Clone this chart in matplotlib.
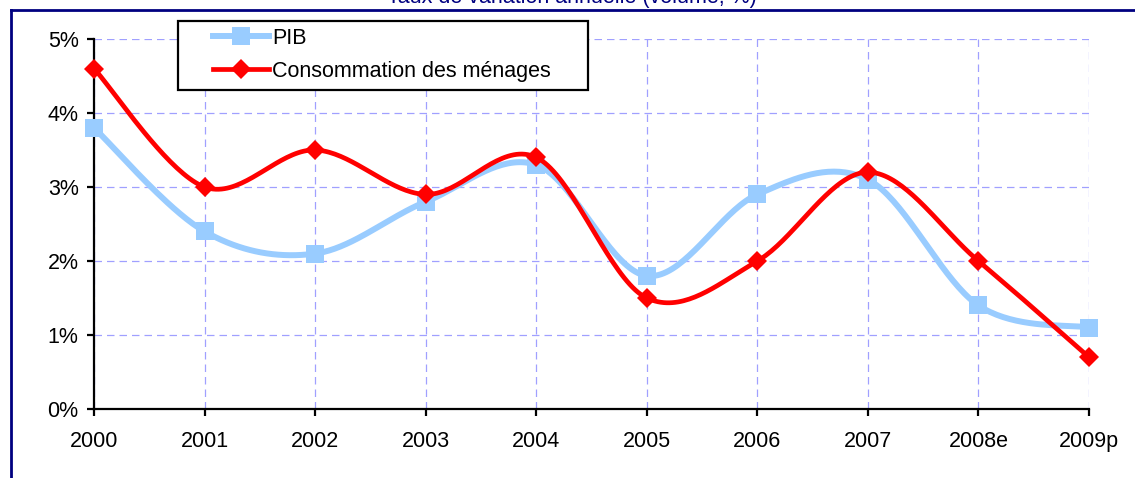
import numpy as np
import matplotlib
matplotlib.use("Agg")
import matplotlib.pyplot as plt
from matplotlib.patches import Rectangle
from matplotlib.lines import Line2D
from matplotlib.ticker import FuncFormatter

years = ["2000", "2001", "2002", "2003", "2004", "2005", "2006", "2007", "2008e", "2009p"]
pib = [3.8, 2.4, 2.1, 2.8, 3.3, 1.8, 2.9, 3.1, 1.4, 1.1]
conso = [4.6, 3.0, 3.5, 2.9, 3.4, 1.5, 2.0, 3.2, 2.0, 0.7]
title = "Taux de variation annuelle (volume, %)"

plt.rcParams['font.family'] = ['Liberation Sans', 'DejaVu Sans']


def smooth(x, y, n=40):
    # Excel-like smoothed line (cubic Bezier with Catmull-Rom control points)
    x = np.asarray(x, float)
    y = np.asarray(y, float)
    P = np.column_stack([x, y])
    out = []
    for i in range(len(P) - 1):
        p0 = P[i - 1] if i > 0 else P[i]
        p1 = P[i]
        p2 = P[i + 1]
        p3 = P[i + 2] if i + 2 < len(P) else P[i + 1]
        c1 = p1 + (p2 - p0) / 6.0
        c2 = p2 - (p3 - p1) / 6.0
        t = np.linspace(0, 1, n)[:, None]
        seg = ((1 - t) ** 3) * p1 + 3 * ((1 - t) ** 2) * t * c1 + 3 * (1 - t) * t ** 2 * c2 + t ** 3 * p2
        out.append(seg if i == 0 else seg[1:])
    S = np.vstack(out)
    return S[:, 0], S[:, 1]


W, H = 1135, 478
FS = 15.5
fig = plt.figure(figsize=(W / 100, H / 100), dpi=100)
ax = fig.add_axes([94 / W, 1 - 409 / H, (1089 - 94) / W, (409 - 39) / H])

xi = np.arange(len(years))
blue = '#99CCFF'
red = '#FF0000'
LW_B, MS_B = 4.3, 13
LW_R, MS_R = 3.4, 10

sx, sy = smooth(xi, pib)
ax.plot(sx, sy, color=blue, lw=LW_B, solid_capstyle='round', zorder=3, clip_on=False)
ax.plot(xi, pib, ls='none', marker='s', ms=MS_B, color=blue, mec=blue, mew=0, zorder=4, clip_on=False)

sx, sy = smooth(xi, conso)
ax.plot(sx, sy, color=red, lw=LW_R, solid_capstyle='round', zorder=5, clip_on=False)
ax.plot(xi, conso, ls='none', marker='D', ms=MS_R, color=red, mec=red, mew=0, zorder=6, clip_on=False)

ax.set_xlim(0, len(years) - 1)
ax.set_ylim(0, 5)
ax.set_xticks(xi)
ax.set_xticklabels(years)
ax.set_yticks(np.arange(0, 6, 1))
ax.yaxis.set_major_formatter(FuncFormatter(lambda v, p: f"{int(round(v))}%"))

for s in ['top', 'right']:
    ax.spines[s].set_visible(False)
for s in ['left', 'bottom']:
    ax.spines[s].set_linewidth(1.6)
    ax.spines[s].set_color('black')
    ax.spines[s].set_zorder(2.5)

ax.tick_params(axis='both', labelsize=FS, direction='out', length=5, width=1.6, color='black')
ax.tick_params(axis='x', pad=11)
ax.tick_params(axis='y', pad=6)

ax.grid(True, color='#A0A0FF', ls=(0, (6, 4)), lw=0.9, zorder=0)
ax.set_axisbelow(True)

# title (partially cut at top, as in the reference)
fig.text(572 / W, 1 - 3 / H, title, ha='center', va='baseline', fontsize=FS, color='#000080')

# blue frame lines
fig.add_artist(Line2D([11 / W, 1.0], [1 - 10 / H, 1 - 10 / H], transform=fig.transFigure, color='#000080', lw=2))
fig.add_artist(Line2D([11 / W, 11 / W], [1 - 10 / H, 0], transform=fig.transFigure, color='#000080', lw=2))

# legend frame
fig.add_artist(Rectangle((178 / W, 1 - 90 / H), (588 - 178) / W, (90 - 21) / H, transform=fig.transFigure,
                         facecolor='white', edgecolor='black', lw=1.6, zorder=8))
handles = [Line2D([], [], color=blue, lw=LW_B, marker='s', ms=MS_B, mec=blue, mew=0),
           Line2D([], [], color=red, lw=LW_R, marker='D', ms=MS_R, mec=red, mew=0)]
leg = fig.legend(handles, ["PIB", "Consommation des ménages"], loc='upper left',
                 bbox_to_anchor=(213 / W, 1 - 28 / H), frameon=False, fontsize=FS,
                 handlelength=2.6, handletextpad=0.15, labelspacing=0.55, borderpad=0, borderaxespad=0)
leg.set_zorder(9)

fig.savefig('out.png', dpi=100)
